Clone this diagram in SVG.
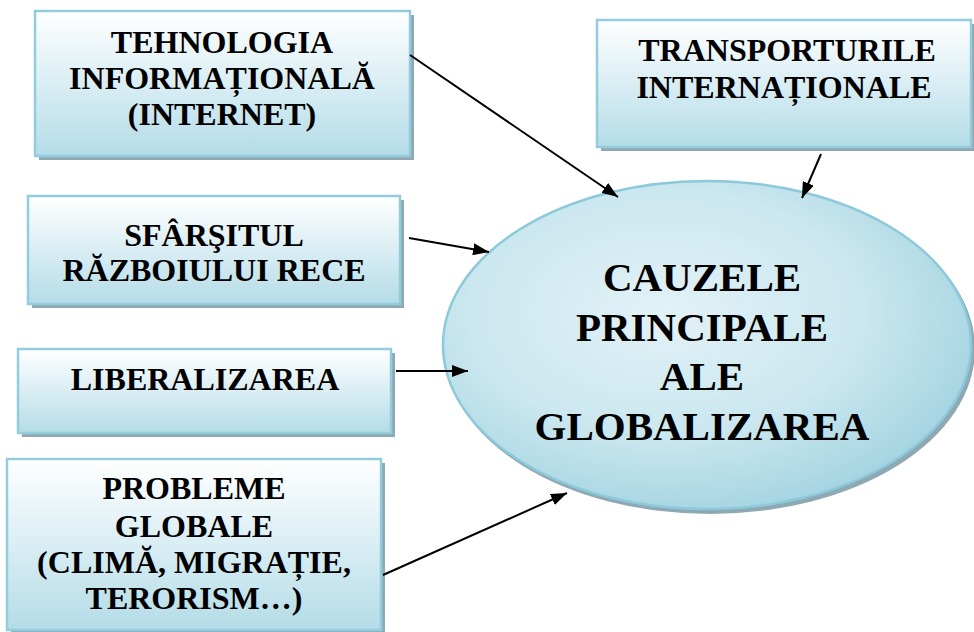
<svg xmlns="http://www.w3.org/2000/svg" width="974" height="632" viewBox="0 0 974 632">
<defs>
<linearGradient id="boxg" x1="0" y1="0" x2="0" y2="1">
<stop offset="0" stop-color="#ffffff"/>
<stop offset="0.55" stop-color="#d6ecf3"/>
<stop offset="1" stop-color="#b4dce7"/>
</linearGradient>
<radialGradient id="ellg" cx="0.42" cy="0.4" r="0.62">
<stop offset="0" stop-color="#e2f2f7"/>
<stop offset="0.6" stop-color="#cbe7ef"/>
<stop offset="1" stop-color="#a6d5e2"/>
</radialGradient>
<marker id="arr" viewBox="0 0 16 12" refX="16" refY="6" markerWidth="16" markerHeight="12" markerUnits="userSpaceOnUse" orient="auto">
<path d="M0,0 L16,6 L0,12 Z" fill="#000"/>
</marker>
</defs>
<style>
.sh{fill:#8fa9b4}
.bx{fill:url(#boxg);stroke:#93cddd;stroke-width:2.5}
.c{stroke:#000;stroke-width:2;fill:none;marker-end:url(#arr)}
</style>
<rect width="974" height="632" fill="#fff"/>

<g id="tehnologia">
<rect class="sh" x="39" y="15" width="375" height="145"/>
<rect class="bx" x="35" y="11" width="375" height="145"/>
<g font-family="Liberation Serif, serif" font-weight="bold" font-size="32" text-anchor="middle" fill="#000">
<text x="222" y="53">TEHNOLOGIA</text>
<text x="222" y="89">INFORMAȚIONALĂ</text>
<text x="222" y="125">(INTERNET)</text>
</g>
</g>

<g id="transporturile">
<rect class="sh" x="601" y="24" width="374" height="127"/>
<rect class="bx" x="597" y="20" width="374" height="127"/>
<g font-family="Liberation Serif, serif" font-weight="bold" font-size="32" text-anchor="middle" fill="#000">
<text x="787" y="61">TRANSPORTURILE</text>
<text x="784" y="98">INTERNAȚIONALE</text>
</g>
</g>

<g id="sfarsitul">
<rect class="sh" x="32" y="200" width="372" height="108"/>
<rect class="bx" x="28" y="196" width="372" height="108"/>
<g font-family="Liberation Serif, serif" font-weight="bold" font-size="32" text-anchor="middle" fill="#000">
<text x="214" y="246">SFÂRŞITUL</text>
<text x="214" y="281">RĂZBOIULUI RECE</text>
</g>
</g>

<g id="liberalizarea">
<rect class="sh" x="22" y="353" width="373" height="84"/>
<rect class="bx" x="18" y="349" width="373" height="84"/>
<g font-family="Liberation Serif, serif" font-weight="bold" font-size="32" text-anchor="middle" fill="#000">
<text x="205" y="390">LIBERALIZAREA</text>
</g>
</g>

<g id="probleme">
<rect class="sh" x="11" y="463" width="374" height="173"/>
<rect class="bx" x="7" y="459" width="374" height="171"/>
<g font-family="Liberation Serif, serif" font-weight="bold" font-size="32" text-anchor="middle" fill="#000">
<text x="194" y="499">PROBLEME</text>
<text x="194" y="537">GLOBALE</text>
<text x="194" y="573">(CLIMĂ, MIGRAȚIE,</text>
<text x="194" y="609">TERORISM…)</text>
</g>
</g>

<g id="cauzele">
<ellipse cx="710" cy="349" rx="265" ry="165" fill="#8fa9b4"/>
<ellipse cx="707" cy="345" rx="264" ry="164" fill="url(#ellg)" stroke="#8ccadb" stroke-width="2.5"/>
<g font-family="Liberation Serif, serif" font-weight="bold" font-size="41" text-anchor="middle" fill="#000">
<text x="702" y="291">CAUZELE</text>
<text x="702" y="341">PRINCIPALE</text>
<text x="702" y="390">ALE</text>
<text x="702" y="440">GLOBALIZAREA</text>
</g>
</g>

<g id="connectors">
<line class="c" x1="410" y1="55" x2="618" y2="197"/>
<line class="c" x1="821" y1="154" x2="802" y2="198"/>
<line class="c" x1="409" y1="238" x2="489" y2="252"/>
<line class="c" x1="396" y1="371" x2="468" y2="371"/>
<line class="c" x1="383" y1="575" x2="567" y2="493"/>
</g>
</svg>
